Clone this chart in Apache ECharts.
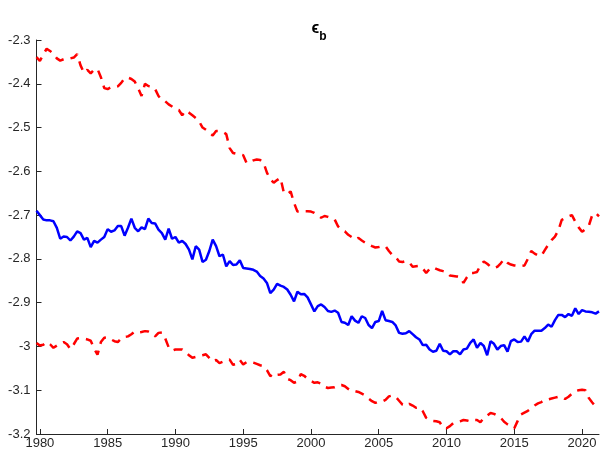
<!DOCTYPE html>
<html>
<head>
<meta charset="utf-8">
<script src="https://cdn.jsdelivr.net/npm/echarts@6/dist/echarts.min.js"></script>
<style>html,body{margin:0;padding:0;background:#fff}#c{width:605px;height:450px}</style>
</head>
<body>
<div id="c"></div>
<script>
// Quarterly observations, first quarter = 1979Q4 (1979.75)
const startYear = 1979.75;
const xTicks = [1980, 1985, 1990, 1995, 2000, 2005, 2010, 2015, 2020];
const yTicks = [-3.2, -3.1, -3.0, -2.9, -2.8, -2.7, -2.6, -2.5, -2.4, -2.3];

const median = [
-2.690,-2.700,-2.710,-2.712,-2.712,-2.714,-2.729,-2.754,-2.749,-2.750,
-2.758,-2.749,-2.737,-2.741,-2.756,-2.752,-2.773,-2.759,-2.763,-2.756,
-2.750,-2.732,-2.738,-2.735,-2.725,-2.725,-2.747,-2.729,-2.708,-2.729,
-2.737,-2.728,-2.732,-2.708,-2.718,-2.719,-2.733,-2.741,-2.756,-2.731,
-2.754,-2.750,-2.763,-2.759,-2.766,-2.779,-2.801,-2.771,-2.779,-2.807,
-2.802,-2.782,-2.756,-2.771,-2.794,-2.790,-2.817,-2.805,-2.814,-2.813,
-2.803,-2.821,-2.822,-2.823,-2.825,-2.829,-2.839,-2.845,-2.855,-2.878,
-2.870,-2.857,-2.861,-2.864,-2.870,-2.882,-2.897,-2.875,-2.881,-2.880,
-2.888,-2.904,-2.920,-2.908,-2.904,-2.910,-2.919,-2.921,-2.918,-2.923,
-2.944,-2.946,-2.951,-2.931,-2.941,-2.946,-2.931,-2.935,-2.951,-2.958,
-2.944,-2.942,-2.919,-2.940,-2.942,-2.944,-2.952,-2.969,-2.971,-2.970,
-2.965,-2.972,-2.979,-2.984,-2.997,-2.996,-3.007,-3.012,-3.010,-2.994,
-3.010,-3.011,-3.018,-3.011,-3.011,-3.018,-3.007,-3.005,-2.992,-2.984,
-3.003,-2.992,-2.999,-3.020,-2.988,-2.994,-3.007,-2.999,-2.997,-3.012,
-2.988,-2.984,-2.990,-2.989,-2.977,-2.989,-2.972,-2.964,-2.964,-2.964,
-2.958,-2.950,-2.955,-2.940,-2.928,-2.928,-2.933,-2.926,-2.930,-2.913,
-2.926,-2.917,-2.920,-2.921,-2.922,-2.925,-2.920
];

const upper = [
-2.339,-2.348,-2.333,-2.320,-2.325,-2.332,-2.342,-2.347,-2.344,-2.342,
-2.342,-2.340,-2.332,-2.358,-2.375,-2.368,-2.376,-2.368,-2.366,-2.385,
-2.410,-2.412,-2.408,-2.408,-2.406,-2.398,-2.387,-2.386,-2.389,-2.395,
-2.410,-2.428,-2.400,-2.405,-2.406,-2.412,-2.428,-2.437,-2.440,-2.447,
-2.452,-2.458,-2.460,-2.472,-2.461,-2.466,-2.472,-2.478,-2.486,-2.500,
-2.505,-2.512,-2.518,-2.508,-2.508,-2.510,-2.515,-2.547,-2.558,-2.560,
-2.561,-2.563,-2.581,-2.578,-2.575,-2.573,-2.574,-2.580,-2.603,-2.618,
-2.626,-2.620,-2.615,-2.649,-2.652,-2.646,-2.672,-2.692,-2.692,-2.691,
-2.691,-2.692,-2.695,-2.700,-2.706,-2.702,-2.704,-2.707,-2.710,-2.726,
-2.734,-2.737,-2.745,-2.750,-2.756,-2.752,-2.758,-2.763,-2.767,-2.771,
-2.774,-2.773,-2.771,-2.771,-2.782,-2.791,-2.796,-2.806,-2.807,-2.805,
-2.808,-2.818,-2.817,-2.816,-2.822,-2.832,-2.823,-2.819,-2.823,-2.826,
-2.828,-2.830,-2.838,-2.839,-2.840,-2.841,-2.855,-2.842,-2.832,-2.832,
-2.830,-2.815,-2.806,-2.811,-2.818,-2.821,-2.818,-2.810,-2.801,-2.809,
-2.813,-2.815,-2.816,-2.816,-2.815,-2.800,-2.782,-2.788,-2.792,-2.793,
-2.780,-2.768,-2.757,-2.749,-2.735,-2.711,-2.707,-2.703,-2.700,-2.715,
-2.728,-2.738,-2.732,-2.724,-2.700,-2.695,-2.703
];

const lower = [
-2.992,-2.998,-2.996,-2.990,-2.995,-3.003,-2.998,-2.993,-2.990,-2.995,
-3.006,-2.995,-2.982,-2.981,-2.982,-2.984,-2.987,-3.005,-3.019,-2.990,
-2.980,-2.979,-2.984,-2.988,-2.990,-2.982,-2.978,-2.977,-2.972,-2.966,
-2.968,-2.967,-2.965,-2.966,-2.970,-2.977,-2.969,-2.968,-2.982,-3.002,
-3.010,-3.007,-3.007,-3.007,-3.013,-3.020,-3.026,-3.024,-3.022,-3.020,
-3.018,-3.026,-3.034,-3.031,-3.038,-3.035,-3.031,-3.030,-3.042,-3.040,
-3.031,-3.041,-3.036,-3.035,-3.037,-3.040,-3.043,-3.045,-3.054,-3.068,
-3.061,-3.065,-3.064,-3.058,-3.074,-3.077,-3.083,-3.080,-3.063,-3.067,
-3.074,-3.079,-3.083,-3.082,-3.085,-3.092,-3.095,-3.094,-3.093,-3.089,
-3.088,-3.091,-3.097,-3.102,-3.102,-3.104,-3.108,-3.112,-3.119,-3.125,
-3.129,-3.126,-3.126,-3.122,-3.114,-3.112,-3.115,-3.124,-3.133,-3.136,
-3.131,-3.135,-3.140,-3.139,-3.148,-3.163,-3.168,-3.170,-3.171,-3.173,
-3.186,-3.187,-3.182,-3.175,-3.173,-3.171,-3.168,-3.169,-3.171,-3.168,
-3.168,-3.173,-3.163,-3.158,-3.152,-3.154,-3.158,-3.163,-3.172,-3.178,
-3.183,-3.187,-3.170,-3.155,-3.151,-3.147,-3.141,-3.135,-3.130,-3.127,
-3.122,-3.121,-3.119,-3.117,-3.115,-3.115,-3.120,-3.115,-3.108,-3.102,
-3.100,-3.099,-3.100,-3.118,-3.128,-3.137,-3.133
];

const toPairs = arr => arr.map((v, i) => [startYear + 0.25 * i, v]);
const axisColor = '#262626';
const font = '"Liberation Sans", Arial, Helvetica, sans-serif';

const chart = echarts.init(document.getElementById('c'), null, {renderer: 'canvas'});
chart.setOption({
  animation: false,
  backgroundColor: '#ffffff',
  title: {
    text: '{e|ϵ}{s|b}',
    left: 314,
    textAlign: 'center',
    top: 16,
    textStyle: {
      rich: {
        e: {fontFamily: font, fontSize: 16, fontWeight: 'bold', color: '#000', verticalAlign: 'top', lineHeight: 22},
        s: {fontFamily: font, fontSize: 12, fontWeight: 'bold', color: '#000', verticalAlign: 'bottom', lineHeight: 22, padding: [8, 0, 0, 0]}
      }
    }
  },
  grid: {left: 36.5, right: 6, top: 40, bottom: 16, containLabel: false},
  xAxis: {
    type: 'value',
    min: startYear,
    max: startYear + 0.25 * (median.length - 1),
    splitLine: {show: false},
    axisLine: {show: true, onZero: false, lineStyle: {color: axisColor, width: 1}},
    axisTick: {show: true, inside: true, length: 5, customValues: xTicks, lineStyle: {color: axisColor}},
    axisLabel: {show: true, customValues: xTicks, color: axisColor, fontFamily: font, fontSize: 13, margin: 3,
      formatter: v => String(v)}
  },
  yAxis: {
    type: 'value',
    min: -3.2,
    max: -2.3,
    interval: 0.1,
    splitLine: {show: false},
    axisLine: {show: true, onZero: false, lineStyle: {color: axisColor, width: 1}},
    axisTick: {show: true, inside: true, length: 5, lineStyle: {color: axisColor}},
    axisLabel: {color: axisColor, fontFamily: font, fontSize: 13, margin: 6,
      formatter: v => String(Math.round(v * 10) / 10)}
  },
  series: [
    {type: 'line', data: toPairs(upper), showSymbol: false, symbol: 'none',
      lineStyle: {color: '#ff0000', width: 2.5, type: [9, 7]}, z: 2},
    {type: 'line', data: toPairs(lower), showSymbol: false, symbol: 'none',
      lineStyle: {color: '#ff0000', width: 2.5, type: [9, 7]}, z: 2},
    {type: 'line', data: toPairs(median), showSymbol: false, symbol: 'none',
      lineStyle: {color: '#0000ff', width: 2.5}, z: 3}
  ]
});
</script>
</body>
</html>
